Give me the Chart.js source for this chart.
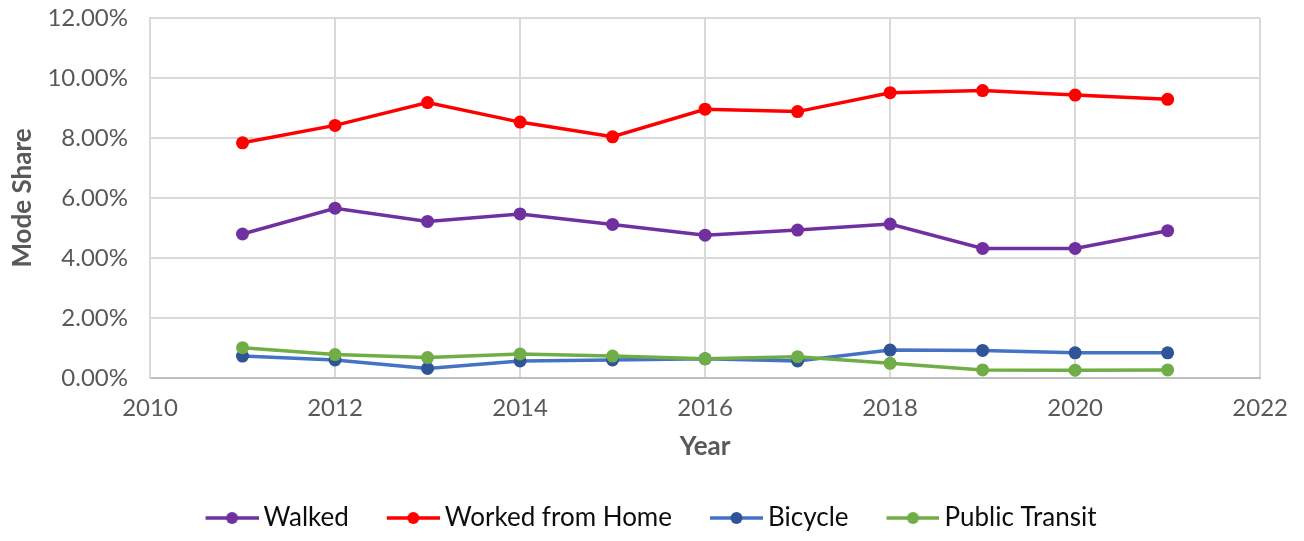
<!DOCTYPE html>
<html>
<head>
<meta charset="utf-8">
<script src="https://cdn.jsdelivr.net/npm/chart.js@4.4.1/dist/chart.umd.min.js"></script>
<style>
  html, body { margin: 0; padding: 0; background: #fff; }
  #wrap { width: 1304px; height: 541px; position: relative; }
</style>
</head>
<body>
<div id="wrap"><canvas id="chart"></canvas></div>
<script>
// commute mode share by year, in percent
const years = [2011, 2012, 2013, 2014, 2015, 2016, 2017, 2018, 2019, 2020, 2021];
const walked = [4.80, 5.66, 5.22, 5.47, 5.12, 4.76, 4.93, 5.13, 4.32, 4.32, 4.91];
const workedFromHome = [7.84, 8.42, 9.18, 8.53, 8.04, 8.96, 8.88, 9.51, 9.58, 9.43, 9.29];
const bicycle = [0.73, 0.60, 0.32, 0.57, 0.60, 0.64, 0.57, 0.93, 0.92, 0.84, 0.84];
const publicTransit = [1.01, 0.78, 0.68, 0.80, 0.73, 0.64, 0.71, 0.49, 0.27, 0.26, 0.27];

const seriesNames = ['Walked', 'Worked from Home', 'Bicycle', 'Public Transit'];
const seriesValues = [walked, workedFromHome, bicycle, publicTransit];
const lineColors = ['#7030A0', '#FF0000', '#4472C4', '#70AD47'];
const markerColors = ['#7030A0', '#FF0000', '#2F5597', '#70AD47'];

const FONT = 'Lato, "Open Sans", sans-serif';
const LEGEND_PAD = 8;
const LEGEND_BOX = 75;

// legend swatch: short line with a dot, drawn right-aligned in a wider canvas
function makeSwatch(line, dot) {
  const c = document.createElement('canvas');
  c.width = LEGEND_BOX + 16;
  c.height = 16;
  const g = c.getContext('2d');
  const x0 = c.width - 53;
  g.strokeStyle = line;
  g.lineWidth = 3.5;
  g.beginPath();
  g.moveTo(x0, 8);
  g.lineTo(c.width, 8);
  g.stroke();
  g.fillStyle = dot;
  g.beginPath();
  g.arc((x0 + c.width) / 2, 8, 6, 0, Math.PI * 2);
  g.fill();
  return c;
}
const swatches = seriesNames.map((_, i) => makeSwatch(lineColors[i], markerColors[i]));

const datasets = seriesNames.map((name, i) => ({
  label: name,
  data: years.map((yr, j) => ({ x: yr, y: seriesValues[i][j] })),
  borderColor: lineColors[i],
  backgroundColor: markerColors[i],
  pointBackgroundColor: markerColors[i],
  pointBorderColor: markerColors[i],
  pointBorderWidth: 0,
  pointRadius: 6.5,
  borderWidth: 3.5,
  tension: 0,
  order: seriesNames.length - i
}));

new Chart(document.getElementById('chart'), {
  type: 'line',
  data: { datasets },
  options: {
    responsive: true,
    maintainAspectRatio: false,
    animation: false,
    events: [],
    layout: { padding: { top: 18, left: 9, right: 41, bottom: 0 } },
    plugins: {
      tooltip: { enabled: false },
      legend: {
        position: 'bottom',
        labels: {
          usePointStyle: true,
          pointStyleWidth: LEGEND_BOX,
          padding: LEGEND_PAD,
          color: '#0d0d0d',
          font: { family: FONT, size: 26 },
          generateLabels: (chart) => chart.data.datasets.map((ds, i) => ({
            text: ds.label,
            pointStyle: swatches[i],
            fillStyle: markerColors[i],
            strokeStyle: lineColors[i],
            fontColor: '#0d0d0d',
            lineWidth: 0,
            hidden: false,
            datasetIndex: i
          }))
        }
      }
    },
    scales: {
      x: {
        type: 'linear',
        min: 2010,
        max: 2022,
        afterFit: (s) => { s.height = 119; },
        ticks: {
          stepSize: 2,
          padding: 16,
          color: '#595959',
          font: { family: FONT, size: 24 },
          callback: (v) => String(v)
        },
        grid: { color: '#D9D9D9', lineWidth: 2, drawTicks: false },
        border: { color: '#BFBFBF', width: 2 },
        title: {
          display: true,
          text: 'Year',
          color: '#595959',
          font: { family: FONT, size: 26, weight: 'bold' },
          padding: { top: 0, bottom: 35 }
        }
      },
      y: {
        min: 0,
        max: 12,
        afterFit: (s) => {
          s.width = 141;
          s.paddingTop = 0;
          s.paddingBottom = 0;
        },
        ticks: {
          stepSize: 2,
          padding: 22,
          color: '#595959',
          font: { family: FONT, size: 24 },
          callback: (v) => v.toFixed(2) + '%'
        },
        grid: { color: '#D9D9D9', lineWidth: 2, drawTicks: false },
        border: { color: '#D9D9D9', width: 2 },
        title: {
          display: true,
          text: 'Mode Share',
          color: '#595959',
          font: { family: FONT, size: 26, weight: 'bold' },
          padding: { top: -2, bottom: 0 }
        }
      }
    }
  }
});
</script>
</body>
</html>
